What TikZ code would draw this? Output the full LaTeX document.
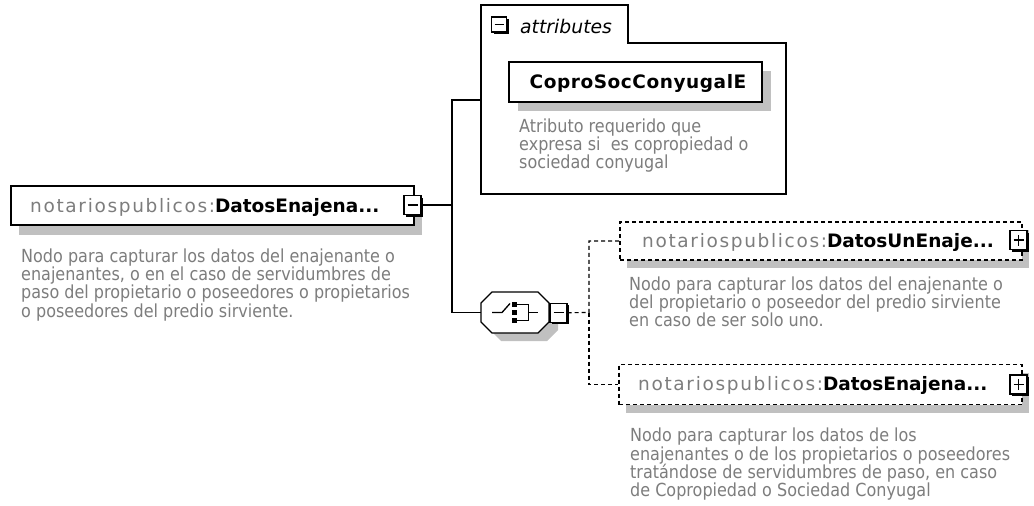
\documentclass[tikz,border=0pt]{standalone}
\usepackage{fontspec}
\setmainfont{DejaVu Sans}
\newfontfamily\pfxfont[LetterSpace=9]{DejaVu Sans}
\newfontfamily\descfont[FakeStretch=0.89]{DejaVu Sans}
\usetikzlibrary{shadows}
\definecolor{txtgray}{RGB}{125,125,125}
\definecolor{descgray}{RGB}{125,125,125}
\definecolor{shgray}{RGB}{192,192,192}
\tikzset{
  elbox/.style={draw=black, line width=1.5pt, fill=white, inner sep=0pt},
  optbox/.style={elbox, line width=1.2pt, dash pattern=on 4pt off 3pt},
  shad/.style 2 args={drop shadow={shadow xshift=#1pt, shadow yshift=-#2pt, opacity=1, fill=shgray}},
  iconbox/.style={draw=black, line width=1.2pt, fill=white, minimum width=17pt, minimum height=19pt, inner sep=0pt,
    drop shadow={shadow xshift=2pt, shadow yshift=-2pt, opacity=1, fill=black}},
  iconline/.style={line width=1.4pt},
  titletext/.style={anchor=base west, inner sep=0pt, font=\fontsize{18.5}{20}\selectfont},
  desctext/.style={anchor=north west, inner sep=0pt, align=left, text=descgray, font=\descfont\fontsize{18}{18.3}\selectfont},
  conn/.style={line width=1.3pt},
  dconn/.style={line width=1.2pt, dash pattern=on 4pt off 3pt},
}
\begin{document}
\begin{tikzpicture}[x=1pt, y=-1pt]
\useasboundingbox[fill=white] (0,0) rectangle (1034,506);

% ---------- main element ----------
\node[elbox, shad={8}{10}, minimum width=403pt, minimum height=39pt] (main) at (212.5,205.5) {};
\node[titletext] (maintitle) at (30,212.5) {{\pfxfont\color{txtgray}notariospublicos:}\textbf{DatosEnajena...}};
\node[iconbox] (m1) at (412.5,205) {};
\draw[iconline] ([xshift=-5pt]m1.center) -- ([xshift=5pt]m1.center);
\node[desctext] (maindesc) at (21,248.3) {Nodo para capturar los datos del enajenante o\\enajenantes, o en el caso de servidumbres de\\paso del propietario o poseedores o propietarios\\o poseedores del predio sirviente.};

% ---------- attributes container ----------
\draw[line width=1.3pt] (481,194) -- (481,5) -- (628,5) -- (628,43) -- (786,43) -- (786,194) -- cycle;
\coordinate (attrin) at (481,100);
\node[iconbox, minimum width=15pt, minimum height=15pt] (m0) at (499,24.5) {};
\draw[iconline] ([xshift=-4.5pt]m0.center) -- ([xshift=4.5pt]m0.center);
\node[anchor=base west, inner sep=0pt, font=\itshape\fontsize{18.8}{20}\selectfont] (attrlbl) at (520,33) {attributes};
\node[elbox, shad={9}{9}, minimum width=253pt, minimum height=40pt] (attr) at (635.5,82) {};
\node[anchor=base, inner sep=0pt, font=\bfseries\addfontfeature{LetterSpace=3}\fontsize{18.5}{20}\selectfont] (attrtitle) at (638,88.5) {CoproSocConyugalE};
\node[desctext] (attrdesc) at (519,118.5) {Atributo requerido que\\expresa si~ es copropiedad o\\sociedad conyugal};

% ---------- choice compositor ----------
\node[minimum width=68pt, minimum height=41pt, inner sep=0pt] (choice) at (515,312.5) {};
\begin{scope}[shift={(9,8)}]
\fill[shgray] (492,292) -- (538,292) -- (549,303) -- (549,322) -- (538,333) -- (492,333) -- (481,322) -- (481,303) -- cycle;
\end{scope}
\draw[line width=1.3pt, fill=white] (492,292) -- (538,292) -- (549,303) -- (549,322) -- (538,333) -- (492,333) -- (481,322) -- (481,303) -- cycle;
\draw[line width=1.3pt] (492,312.5) -- (502,312.5) -- (510,303.5);
\fill (511.7,301.7) rectangle (516.7,306.7);
\fill (511.7,309.8) rectangle (516.7,314.8);
\fill (511.7,317.7) rectangle (516.7,322.7);
\draw[line width=1.3pt] (516.7,304.2) -- (528.3,304.2) -- (528.3,320.7) -- (516.7,320.7);
\draw[line width=1.3pt] (528.3,312.5) -- (538.3,312.5);
\node[iconbox] (m2) at (558.5,312.7) {};
\draw[iconline] ([xshift=-5pt]m2.center) -- ([xshift=5pt]m2.center);

% ---------- children ----------
\node[optbox, shad={7}{8}, minimum width=402pt, minimum height=38pt] (c1) at (821,241) {};
\node[titletext] (c1title) at (642,247.5) {{\pfxfont\color{txtgray}notariospublicos:}\textbf{DatosUnEnaje...}};
\node[iconbox] (p1) at (1018.5,240) {};
\draw[iconline] ([xshift=-5pt]p1.center) -- ([xshift=5pt]p1.center);
\draw[iconline] ([yshift=-5.5pt]p1.center) -- ([yshift=5.5pt]p1.center);
\node[desctext] (c1desc) at (629,276.3) {Nodo para capturar los datos del enajenante o\\del propietario o poseedor del predio sirviente\\en caso de ser solo uno.};

\node[optbox, shad={7}{8}, minimum width=403pt, minimum height=40pt] (c2) at (820.5,384.5) {};
\node[titletext] (c2title) at (638,390.5) {{\pfxfont\color{txtgray}notariospublicos:}\textbf{DatosEnajena...}};
\node[iconbox] (p2) at (1018.5,384.5) {};
\draw[iconline] ([xshift=-5pt]p2.center) -- ([xshift=5pt]p2.center);
\draw[iconline] ([yshift=-5.5pt]p2.center) -- ([yshift=5.5pt]p2.center);
\node[desctext] (c2desc) at (630,428) {Nodo para capturar los datos de los\\enajenantes o de los propietarios o poseedores\\tratándose de servidumbres de paso, en caso\\de Copropiedad o Sociedad Conyugal};

% ---------- connectors ----------
\draw[conn] (m1.east) -- (452,205) coordinate (j1) |- (attrin);
\draw[conn] (j1) |- (choice.west);
\draw[dconn] (m2.east) -- (589,312.5) coordinate (j2) |- (c1.west);
\draw[dconn] (j2) |- (c2.west);
\end{tikzpicture}
\end{document}
